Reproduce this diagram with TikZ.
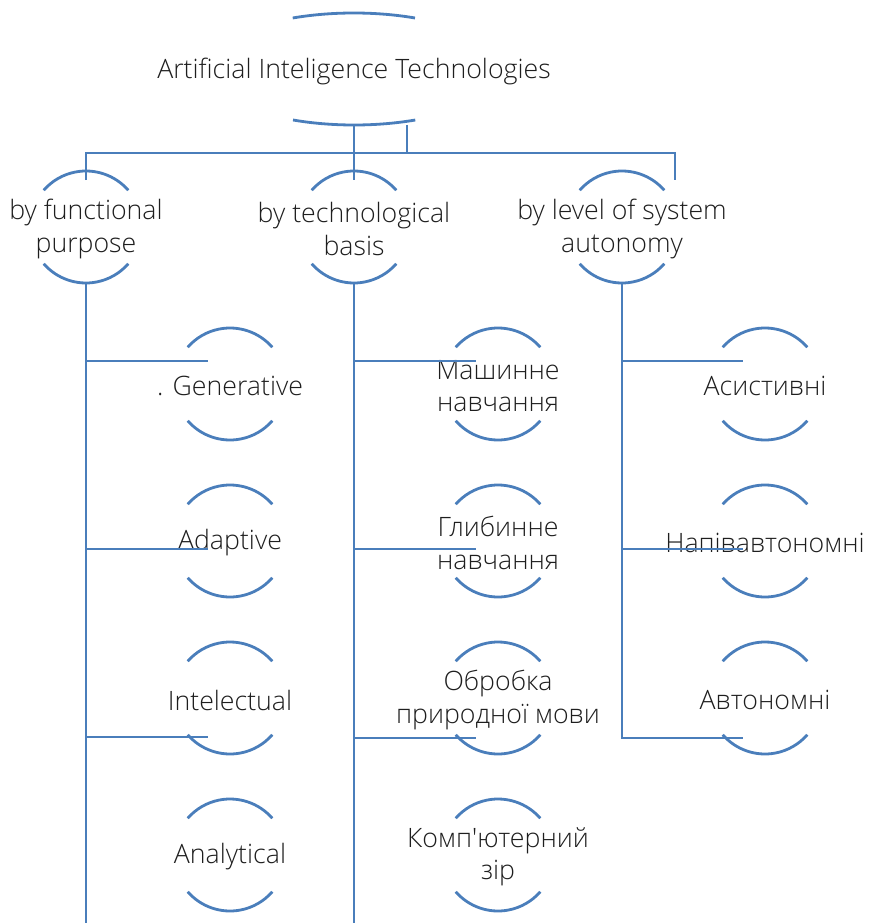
\documentclass[tikz,border=0pt]{standalone}
\usepackage{fontspec}
\IfFontExistsTF{Open Sans Light}{\setmainfont{Open Sans Light}[Ligatures=TeXOff]}{\setmainfont{Open Sans}[Ligatures=TeXOff]}
\usetikzlibrary{calc}
\definecolor{linkblue}{RGB}{74,126,187}
\definecolor{inkgray}{RGB}{30,30,30}
% top and bottom arcs of a bubble (circle of radius 56 around the bubble centre,
% which sits 2pt above the text node centre)
\newcommand\bubblearcs[1]{%
  \draw[arcline] ([shift={(41:56pt)},yshift=2pt]#1.center) arc[start angle=41,end angle=139,radius=56pt];
  \draw[arcline] ([shift={(221:56pt)},yshift=2pt]#1.center) arc[start angle=221,end angle=319,radius=56pt];
}
\begin{document}
\begin{tikzpicture}[x=1pt,y=1pt,
  conn/.style={draw=linkblue,line width=2.8pt},
  arcline/.style={draw=linkblue,line width=2.8pt},
  lbl/.style={text=inkgray,font=\fontsize{26.7}{32.5}\selectfont,align=center,inner sep=0pt,outer sep=0pt,yshift=-2pt},
  bubble/.style={lbl,minimum height=112pt},
]
\useasboundingbox (0,0) rectangle (869,-923);

% root
\node[lbl,minimum width=296pt,minimum height=112pt] (title) at (354,-69) {Artificial Inteligence Technologies};
\draw[arcline] ([shift={(61pt,53pt)}]title.center) arc[start angle=65.6,end angle=114.4,x radius=148pt,y radius=56pt];
\draw[arcline] ([shift={(-61pt,-49pt)}]title.center) arc[start angle=245.6,end angle=294.4,x radius=148pt,y radius=56pt];

% first level
\node[bubble] (fp) at (86,-227) {by functional\\purpose};
\node[bubble] (tb) at (354,-227) {by technological\\basis};
\node[bubble] (la) at (622,-227) {by level of system\\autonomy};
\bubblearcs{fp}\bubblearcs{tb}\bubblearcs{la}

% second level
\node[bubble] (gen) at (230,-384) {. Generative};
\node[bubble] (ada) at (230,-541) {Adaptive};
\node[bubble] (int) at (230,-698) {Intelectual};
\node[bubble] (ana) at (230,-855) {Analytical};
\node[bubble] (ml)  at (498,-384) {Машинне\\навчання};
\node[bubble] (dl)  at (498,-541) {Глибинне\\навчання};
\node[bubble] (nlp) at (498,-698) {Обробка\\природної мови};
\node[bubble] (cv)  at (498,-855) {Комп'ютерний\\зір};
\node[bubble] (asi) at (765,-384) {Асистивні};
\node[bubble] (semi) at (765,-541) {Напівавтономні};
\node[bubble] (aut) at (765,-698) {Автономні};
\foreach \n in {gen,ada,int,ana,ml,dl,nlp,cv,asi,semi,aut}{\bubblearcs{\n}}

% connector end points
\coordinate (bar) at (354,-153);
\coordinate (rstub) at (675,-180);
\coordinate (tstub) at (407,-125);
\coordinate (floor) at (0,-923);
\coordinate (gen-in) at ([shift={(-22pt,25pt)}]gen.center);
\coordinate (ada-in) at ([shift={(-22pt,-6pt)}]ada.center);
\coordinate (int-in) at ([shift={(-22pt,-37pt)}]int.center);
\coordinate (ml-in) at ([shift={(-22pt,25pt)}]ml.center);
\coordinate (dl-in) at ([shift={(-22pt,-6pt)}]dl.center);
\coordinate (nlp-in) at ([shift={(-22pt,-38pt)}]nlp.center);
\coordinate (asi-in) at ([shift={(-22pt,25pt)}]asi.center);
\coordinate (semi-in) at ([shift={(-22pt,-6pt)}]semi.center);
\coordinate (aut-in) at ([shift={(-22pt,-38pt)}]aut.center);

% root to first level
\draw[conn] ([yshift=2pt]title.south) -- ([yshift=-7pt]tb.north);
\draw[conn] ([yshift=-7pt]fp.north) |- (bar -| rstub) -- (rstub);
\draw[conn] (tstub) -- (tstub |- bar);

% trunks
\draw[conn] ([yshift=2pt]fp.south) -- (fp.south |- floor);
\draw[conn] ([yshift=2pt]tb.south) -- (tb.south |- floor);
\draw[conn] ([yshift=2pt]la.south) |- (aut-in);

% branches
\foreach \b in {gen,ada,int}{\draw[conn] (fp.south |- \b-in) -- (\b-in);}
\foreach \b in {ml,dl,nlp}{\draw[conn] (tb.south |- \b-in) -- (\b-in);}
\foreach \b in {asi,semi}{\draw[conn] (la.south |- \b-in) -- (\b-in);}
\end{tikzpicture}
\end{document}
